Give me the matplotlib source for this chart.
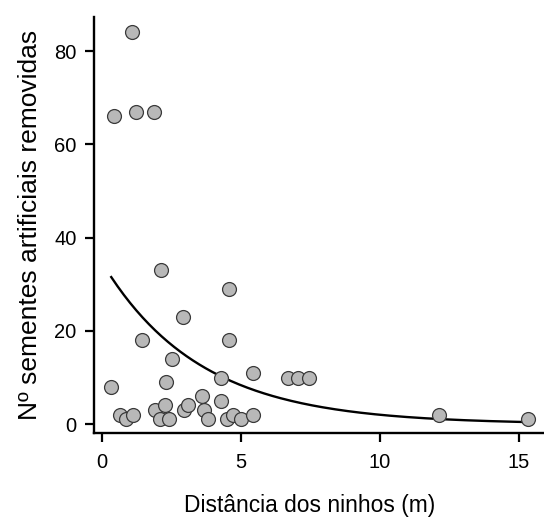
import numpy as np
import matplotlib
matplotlib.use('Agg')
import matplotlib.pyplot as plt

plt.rcParams['font.family'] = ['Liberation Sans', 'DejaVu Sans']

# distance to nest (m) and number of artificial seeds removed
distancia = [0.43, 1.07, 1.24, 1.87, 2.12, 2.93, 4.59, 4.58, 1.46, 2.54,
             0.34, 2.31, 4.28, 5.42, 6.69, 7.05, 7.46, 12.13, 15.32,
             0.67, 0.87, 1.13, 1.93, 2.26, 2.11, 2.42, 2.96, 3.10, 3.61,
             3.69, 3.81, 4.28, 4.52, 4.72, 4.99, 5.42]
removidas = [66, 84, 67, 67, 33, 23, 29, 18, 18, 14,
             8, 9, 10, 11, 10, 10, 10, 2, 1,
             2, 1, 2, 3, 4, 1, 1, 3, 4, 6,
             3, 1, 5, 1, 2, 1, 2]

# fitted model y = exp(a + b*x), coefficients
coef_a = 3.548
coef_b = -0.285

x_ticks = [0, 5, 10, 15]
y_ticks = [0, 20, 40, 60, 80]

fig = plt.figure(figsize=(5.44, 5.21), dpi=100)
ax = fig.add_axes([94/544, 88/521, 450/544, 416/521])

ax.scatter(distancia, removidas, s=100, facecolor='#b8b8b8',
           edgecolor='#3a3a3a', linewidth=0.9, zorder=3)

xs = np.linspace(min(distancia), max(distancia), 200)
ax.plot(xs, np.exp(coef_a + coef_b * xs), color='black', lw=1.7, zorder=2)

ax.set_xlim(-0.28, 15.9)
ax.set_ylim(-1.9, 87.3)
ax.set_xticks(x_ticks)
ax.set_yticks(y_ticks)

for s in ['top', 'right']:
    ax.spines[s].set_visible(False)
for s in ['left', 'bottom']:
    ax.spines[s].set_linewidth(1.7)

ax.tick_params(direction='out', length=6.5, width=1.6, labelsize=14.5,
               pad=6, colors='black')
ax.tick_params(axis='x', pad=8)
ax.set_xlabel('Distância dos ninhos (m)', fontsize=16.4)
ax.xaxis.set_label_coords(0.48, -0.147)
ax.set_ylabel('Nº sementes artificiais removidas', fontsize=19, labelpad=9)

fig.savefig('out.png', dpi=100)
